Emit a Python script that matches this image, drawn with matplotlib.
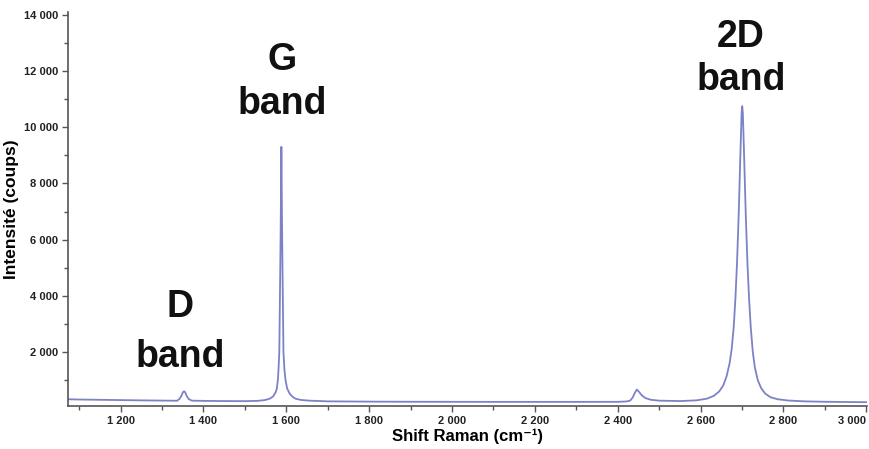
import matplotlib
matplotlib.use("Agg")
import matplotlib.pyplot as plt
from matplotlib.ticker import FixedLocator, MultipleLocator, FuncFormatter

# spectrum points (cm-1, counts)
shift = [1073, 1100, 1150, 1200, 1250, 1300, 1325, 1336, 1342, 1347, 1350, 1353,
         1356, 1359, 1364, 1372, 1400, 1450, 1500, 1530, 1548, 1560, 1568, 1574,
         1577, 1579.5, 1581, 1583, 1584, 1586, 1588, 1590, 1592, 1593, 1595.5,
         1598, 1602, 1608, 1614, 1622, 1635, 1655, 1700, 1800, 1900, 2000, 2100,
         2200, 2300, 2400, 2420, 2430, 2436, 2441, 2446, 2451, 2458, 2467, 2480,
         2500, 2550, 2590, 2615, 2632, 2645, 2655, 2663, 2670, 2675, 2680, 2684,
         2688, 2692, 2696, 2699, 2700.5, 2702, 2705, 2709, 2713, 2717, 2721, 2726, 2731,
         2738, 2746, 2756, 2769, 2786, 2811, 2850, 2900, 2950, 3000]
counts = [320, 310, 300, 290, 280, 272, 268, 265, 330, 450, 560, 605,
          560, 450, 330, 270, 262, 255, 252, 262, 290, 340, 420, 560,
          700, 1000, 1350, 2000, 3300, 5900, 9300, 5900, 3300, 2000, 1350,
          1000, 700, 520, 420, 340, 295, 270, 245, 235, 230, 228, 226,
          226, 226, 228, 240, 270, 380, 540, 665, 590, 460, 360, 300,
          270, 255, 280, 340, 440, 600, 820, 1150, 1600, 2100, 2900, 3900,
          5200, 6900, 9000, 10500, 10750, 10500, 9000, 6900, 5200, 3900, 2900, 2000, 1450,
          1000, 720, 520, 390, 320, 275, 245, 230, 222, 215]

y_ticks = [2000, 4000, 6000, 8000, 10000, 12000, 14000]
x_ticks = [1200, 1400, 1600, 1800, 2000, 2200, 2400, 2600, 2800, 3000]

# band labels: (text, x, y, line spacing)
bands = [("D\nband", 1344, 2700, 1.5), ("G\nband", 1590, 11600, 1.3),
         ("2D\nband", 2697, 12450, 1.25)]

plt.rcParams["font.family"] = ["Liberation Sans", "DejaVu Sans"]

fig = plt.figure(figsize=(8.7, 4.49), dpi=100)
ax = fig.add_axes([0.0782, 0.0958, 0.9185, 0.8775])

ax.plot(shift, counts, color="#7d82c6", lw=1.3)

ax.set_xlim(1073, 3002)
ax.set_ylim(80, 14100)

ax.xaxis.set_major_locator(FixedLocator(x_ticks))
ax.xaxis.set_minor_locator(MultipleLocator(100))
ax.yaxis.set_major_locator(FixedLocator(y_ticks))
ax.yaxis.set_minor_locator(MultipleLocator(1000))

def thousands(v, pos):
    return f"{int(v):,}".replace(",", " ")

ax.xaxis.set_major_formatter(FuncFormatter(thousands))
ax.yaxis.set_major_formatter(FuncFormatter(thousands))

for side in ["top", "right"]:
    ax.spines[side].set_visible(False)
for side in ["left", "bottom"]:
    ax.spines[side].set_color("#555555")
    ax.spines[side].set_linewidth(1.2)

ax.tick_params(which="major", length=4, width=1, color="#555555",
               labelsize=8, labelcolor="#222222", pad=3)
ax.tick_params(which="minor", length=3, width=1, color="#555555")
fig.canvas.draw()
for lab in ax.get_xticklabels() + ax.get_yticklabels():
    lab.set_fontweight("bold")
ax.get_xticklabels()[-1].set_horizontalalignment("right")

ax.set_xlabel("Shift Raman (cm\u207b\u00b9)", fontsize=12, fontweight="bold", labelpad=2)
ax.set_ylabel("Intensité (coups)", fontsize=12.5, fontweight="bold", labelpad=4)

for txt, bx, by, ls in bands:
    ax.text(bx, by, txt, fontsize=27, fontweight="bold", ha="center", va="center",
            linespacing=ls, color="#111111")

fig.savefig("out.png", dpi=100)
